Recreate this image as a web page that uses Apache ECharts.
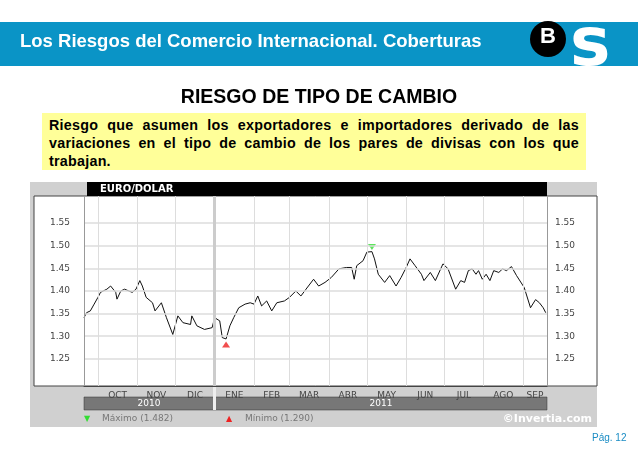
<!DOCTYPE html>
<html><head><meta charset="utf-8">
<script src="https://cdn.jsdelivr.net/npm/echarts@6/dist/echarts.min.js"></script>
<style>
html,body{margin:0;padding:0;width:638px;height:452px;overflow:hidden;background:#fff;font-family:"Liberation Sans",Arial,sans-serif}
#c{position:absolute;left:0;top:0;width:638px;height:452px}
.ov{position:absolute;z-index:2}
</style></head><body>
<div id="c"></div>
<div class="ov" style="left:0;top:22px;width:638px;height:44px;background:#0a94c6"></div>
<div class="ov" style="left:20px;top:30px;color:#fff;font-size:18.5px;font-weight:bold">Los Riesgos del Comercio Internacional. Coberturas</div>
<div class="ov" style="left:530px;top:21px;width:36px;height:36px;border-radius:50%;background:#000;color:#fff;font-size:22px;font-weight:bold;text-align:center;line-height:30px">B</div>
<div class="ov" style="left:570px;top:12px;color:#fff;font-size:68px;font-weight:bold;line-height:60px;font-family:'DejaVu Sans'">s</div>
<div class="ov" style="left:0;top:85px;width:638px;text-align:center;font-size:19.5px;font-weight:bold;color:#000">RIESGO DE TIPO DE CAMBIO</div>
<div class="ov" style="left:42px;top:113px;width:530px;height:51px;padding:3px 7px;background:#ffff99;font-size:14.3px;font-weight:bold;line-height:18px;letter-spacing:0.25px;text-align:justify">Riesgo que asumen los exportadores e importadores derivado de las variaciones en el tipo de cambio de los pares de divisas con los que trabajan.</div>
<div class="ov" style="left:592px;top:432px;font-size:10px;color:#1a8cc4">Pág. 12</div>
<script>
const days = [0,2,5,8,11,13,18,21,25,26,29,32,38,41,44,46,49,54,56,61,65,70,74,78,84,85,89,95,101,103,107,109,112,115,118,122,127,131,134,137,140,144,148,152,158,162,167,171,175,181,185,190,195,201,207,211,213,215,220,223,227,229,232,237,241,246,250,254,257,261,266,268,273,277,283,287,293,297,300,303,306,309,311,314,317,320,323,327,330,333,337,341,347,352,356,359,362,364];
const rates = [1.341,1.352,1.356,1.371,1.386,1.397,1.404,1.411,1.397,1.382,1.400,1.404,1.397,1.404,1.423,1.411,1.386,1.374,1.356,1.374,1.341,1.304,1.345,1.330,1.326,1.345,1.323,1.315,1.319,1.341,1.334,1.297,1.294,1.323,1.341,1.363,1.371,1.374,1.371,1.389,1.367,1.378,1.356,1.374,1.378,1.386,1.400,1.389,1.404,1.426,1.411,1.419,1.430,1.449,1.452,1.452,1.426,1.456,1.467,1.486,1.487,1.471,1.437,1.419,1.434,1.411,1.430,1.452,1.471,1.456,1.437,1.423,1.441,1.423,1.460,1.449,1.404,1.423,1.419,1.445,1.449,1.437,1.445,1.426,1.437,1.423,1.445,1.441,1.449,1.445,1.454,1.434,1.408,1.363,1.381,1.374,1.363,1.352];
const monthStarts = [11,42,72,103,134,162,193,223,254,284,315,346];
const monthNames = ['OCT','NOV','DIC','ENE','FEB','MAR','ABR','MAY','JUN','JUL','AGO','SEP'];
const yTicks = [1.25,1.30,1.35,1.40,1.45,1.50,1.55];
const maxPoint = [227,1.497], minPoint = [112,1.282];
const years = ['2010','2011'];
const endDay = 365;

const mid = monthStarts.map((d,i)=> (d + (monthStarts[i+1]||endDay))/2);
const lbl = {color:'#444',fontSize:9,fontFamily:'DejaVu Sans'};
const chart = echarts.init(document.getElementById('c'));
const yAx = pos => ({type:'value',position:pos,min:1.19,max:1.61,splitLine:{show:false},axisLine:{show:false},axisTick:{show:false},
  axisLabel:{...lbl,customValues:yTicks,formatter:v=>v.toFixed(2),margin:pos==='left'?14:8}});
chart.setOption({
  animation:false,
  graphic:[
    {type:'rect',shape:{x:30,y:182,width:567,height:245},style:{fill:'#d0d0d0'},z:-10},
    {type:'rect',shape:{x:34,y:196,width:563,height:190},style:{fill:'#fff',stroke:'#444',lineWidth:1},z:-9},
    {type:'rect',shape:{x:87,y:182,width:460,height:14},style:{fill:'#000'}},
    {type:'text',style:{x:100,y:189,text:'EURO/DOLAR',fill:'#fff',font:'bold 10px "DejaVu Sans"',verticalAlign:'middle'}},
    {type:'rect',shape:{x:84,y:397,width:463,height:13},style:{fill:'#777',stroke:'#333',lineWidth:0.5}},
    {type:'rect',shape:{x:213,y:386,width:3,height:24},style:{fill:'#eee'}},
    {type:'text',style:{x:149,y:404,text:years[0],fill:'#fff',font:'9px "DejaVu Sans"',align:'center',verticalAlign:'middle'}},
    {type:'text',style:{x:381,y:404,text:years[1],fill:'#fff',font:'9px "DejaVu Sans"',align:'center',verticalAlign:'middle'}},
    {type:'text',style:{x:84,y:419,text:'▼',fill:'#33dd33',font:'8px "DejaVu Sans"',verticalAlign:'middle'}},
    {type:'text',style:{x:102,y:419,text:'Máximo (1.482)',fill:'#777',font:'9px "DejaVu Sans"',verticalAlign:'middle'}},
    {type:'text',style:{x:226,y:419,text:'▲',fill:'#ee2222',font:'8px "DejaVu Sans"',verticalAlign:'middle'}},
    {type:'text',style:{x:245,y:419,text:'Mínimo (1.290)',fill:'#777',font:'9px "DejaVu Sans"',verticalAlign:'middle'}},
    {type:'text',style:{x:592,y:419,text:'©Invertia.com',fill:'#fff',font:'bold 11px "DejaVu Sans"',align:'right',verticalAlign:'middle'}}
  ],
  grid:{left:84,right:91,top:196,bottom:66},
  xAxis:{type:'value',min:0,max:endDay,splitLine:{show:false},axisTick:{show:false},
    axisLine:{show:true,lineStyle:{color:'#444'}},
    axisLabel:{...lbl,customValues:mid,margin:5,formatter:v=>monthNames[mid.indexOf(v)]||''}},
  yAxis:[yAx('left'),yAx('right')],
  series:[
    {type:'line',data:days.map((d,i)=>[d,rates[i]]),showSymbol:false,lineStyle:{color:'#111',width:1},
     markLine:{silent:true,symbol:'none',label:{show:false},
       data:[...yTicks.map(v=>({yAxis:v,lineStyle:{color:'#ddd',type:'solid',width:1.5}})),
             ...monthStarts.map(d=>({xAxis:d,lineStyle:{color:d===103?'#ccc':'#ddd',type:'solid',width:d===103?3:1}})),
             {xAxis:0,lineStyle:{color:'#999',type:'solid',width:1}},{xAxis:endDay,lineStyle:{color:'#999',type:'solid',width:1}}]}},
    {type:'scatter',data:[maxPoint],symbol:'triangle',symbolRotate:180,symbolSize:[8,6],itemStyle:{color:'#33dd33'}},
    {type:'scatter',data:[minPoint],symbol:'triangle',symbolSize:[8,6],itemStyle:{color:'#ee2222'}}
  ]
});
</script></body></html>
